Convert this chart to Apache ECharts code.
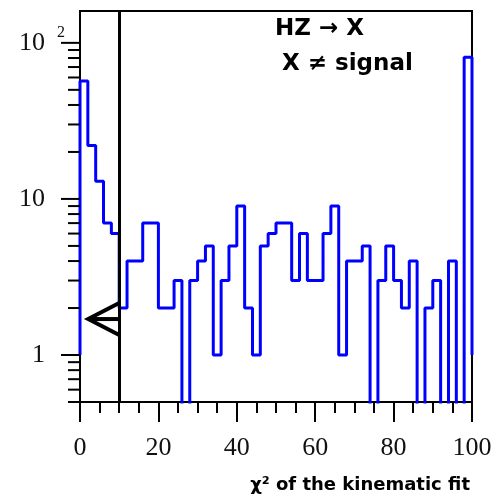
<!DOCTYPE html>
<html>
<head>
<meta charset="utf-8">
<script src="https://cdn.jsdelivr.net/npm/echarts@6/dist/echarts.min.js"></script>
<style>html,body{margin:0;padding:0;background:#fff;}#c{width:495px;height:499px;}</style>
</head>
<body>
<div id="c"></div>
<script>
// Histogram bins (chi^2 of the kinematic fit), bin width 2
const binStarts = [0,2,4,6,8,10,12,14,16,18,20,22,24,26,28,30,32,34,36,38,40,42,44,46,48,
                   50,52,54,56,58,60,62,64,66,68,70,72,74,76,78,80,82,84,86,88,90,92,94,96,98];
const counts    = [57,22,13,7,6,2,4,4,7,7,2,2,3,0,3,4,5,1,3,5,9,2,1,5,6,
                   7,7,3,6,3,3,6,9,1,4,4,5,0,3,5,3,2,4,0,2,3,0,4,0,81];
const histBaseline = 1;
const xMax = 100;
const cutValue = 10;          // chi^2 cut
const arrowTip = [2.1, 1.7];  // arrow pointing to accepted region
const xTicks = [0,20,40,60,80,100];
const yMajorTicks = [1,10,100];
const yMinorTicks = [0.5,0.6,0.7,0.8,0.9,2,3,4,5,6,7,8,9,20,30,40,50,60,70,80,90];
const titleLines = ['HZ \u2192 X', 'X \u2260 signal'];
const xTitle = '\u03c7\u00b2 of the kinematic fit';

// build step data (log axis: zero counts drawn far below the visible range)
const stepData = [[binStarts[0], histBaseline]];
for (let i = 0; i < binStarts.length; i++) {
  stepData.push([binStarts[i], counts[i] > 0 ? counts[i] : 0.01]);
}
stepData.push([xMax, counts[counts.length-1]]);
stepData.push([xMax, histBaseline]);

const tickData = yMajorTicks.map(v => [0, v, 1]).concat(yMinorTicks.map(v => [0, v, 0]));

const serif = '"Liberation Serif", "Times New Roman", serif';
const chart = echarts.init(document.getElementById('c'), null, {renderer: 'canvas'});
chart.setOption({
  animation: false,
  backgroundColor: '#fff',
  grid: {left: 80, right: 23, top: 11, bottom: 97, show: true, borderColor: '#000', borderWidth: 2},
  xAxis: {
    type: 'value', min: 0, max: xMax, interval: 20,
    axisLine: {show: true, lineStyle: {color: '#000', width: 2}},
    axisTick: {show: true, inside: false, length: 20, lineStyle: {color: '#000', width: 2}},
    minorTick: {show: true, splitNumber: 4, length: 11, lineStyle: {color: '#000', width: 2}},
    splitLine: {show: false},
    axisLabel: {margin: 33, fontFamily: serif, fontSize: 26, color: '#111'}
  },
  yAxis: {
    type: 'log', logBase: 10, min: 0.5, max: 160,
    axisLine: {show: true, lineStyle: {color: '#000', width: 2}},
    axisTick: {show: false},
    splitLine: {show: false},
    axisLabel: {
      showMinLabel: false, showMaxLabel: false, margin: 15,
      fontFamily: serif, fontSize: 26, color: '#111',
      formatter: function (v) {
        const l = Math.log10(v);
        const r = Math.round(l);
        if (Math.abs(l - r) > 1e-6) return '';
        if (r === 2) return '{m|10}{s|2}';
        return '{n|' + Math.round(v) + '}';
      },
      rich: {
        n: {fontFamily: serif, fontSize: 26, color: '#111', padding: [0, 20, 0, 0]},
        m: {fontFamily: serif, fontSize: 26, color: '#111', padding: [0, 12, 0, 0]},
        s: {fontFamily: serif, fontSize: 16, color: '#111', width: 8, padding: [0, 0, 20, 0]}
      }
    }
  },
  graphic: [
    {type: 'text', left: 275, top: 18, style: {text: titleLines[0], font: 'bold 23px "DejaVu Sans"', fill: '#000'}},
    {type: 'text', left: 282, top: 53, style: {text: titleLines[1], font: 'bold 23px "DejaVu Sans"', fill: '#000'}},
    {type: 'text', right: 25, top: 476, style: {text: xTitle, font: 'bold 18px "DejaVu Sans"', fill: '#000'}}
  ],
  series: [
    {
      type: 'line', step: 'end', data: stepData, symbol: 'none', clip: true,
      lineStyle: {color: '#0000ff', width: 3}, z: 2
    },
    {
      type: 'line', data: [], symbol: 'none', z: 5,
      markLine: {
        silent: true, symbol: 'none', label: {show: false},
        lineStyle: {color: '#000', width: 3, type: 'solid'},
        data: [{xAxis: cutValue}]
      }
    },
    {
      type: 'custom', z: 6, clip: false, silent: true,
      data: [[arrowTip[0], arrowTip[1], cutValue]],
      renderItem: function (params, api) {
        const tip = api.coord([api.value(0), api.value(1)]);
        const base = api.coord([api.value(2), api.value(1)]);
        return {
          type: 'group',
          children: [
            {type: 'polyline',
             shape: {points: [[base[0], tip[1] - 16], [tip[0], tip[1]], [base[0], tip[1] + 16]]},
             style: {stroke: '#000', lineWidth: 4, fill: null}},
            {type: 'line',
             shape: {x1: tip[0], y1: tip[1], x2: base[0], y2: tip[1]},
             style: {stroke: '#000', lineWidth: 4}}
          ]
        };
      }
    },
    {
      type: 'custom', z: 6, clip: false, silent: true,
      data: tickData,
      renderItem: function (params, api) {
        const p = api.coord([api.value(0), api.value(1)]);
        const len = api.value(2) ? 19 : 12;
        return {
          type: 'line',
          shape: {x1: p[0] - len, y1: p[1], x2: p[0], y2: p[1]},
          style: {stroke: '#000', lineWidth: 2}
        };
      }
    }
  ]
});
</script>
</body>
</html>
